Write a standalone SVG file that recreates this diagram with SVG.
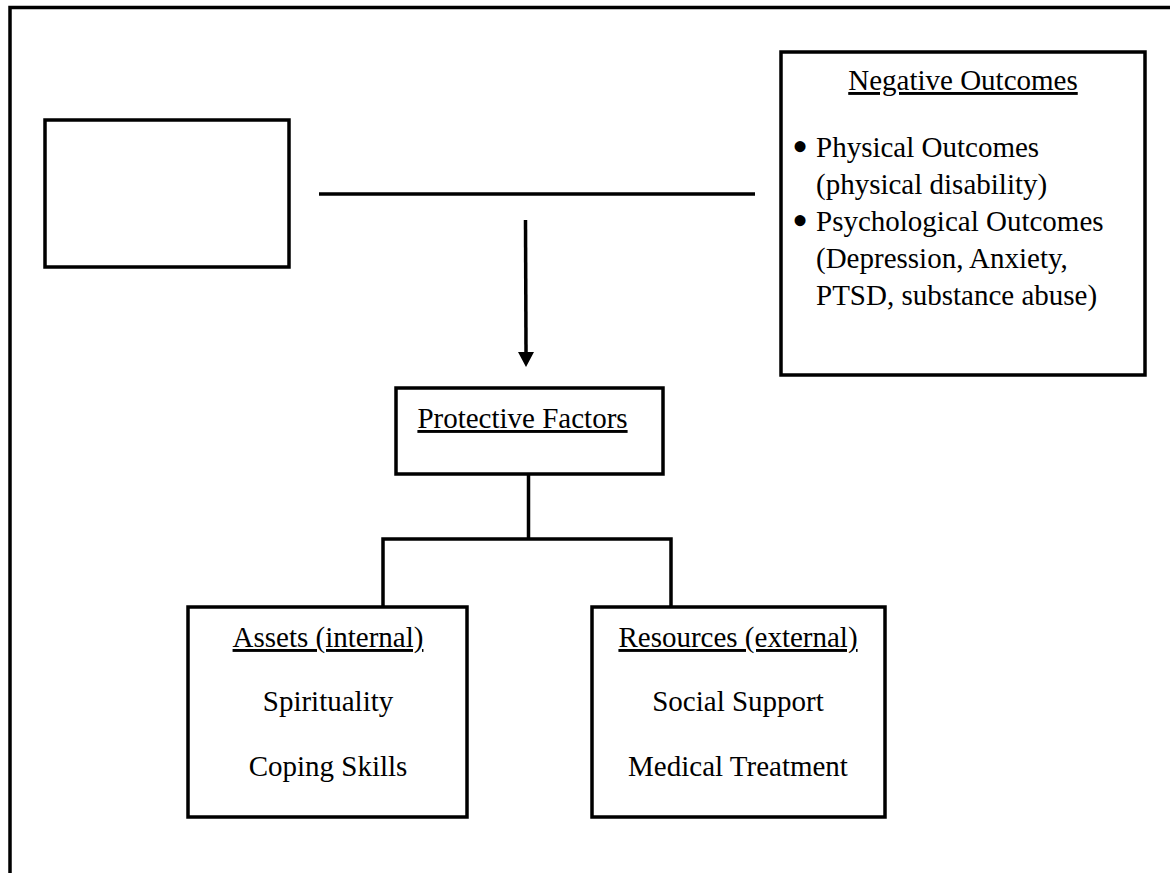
<svg xmlns="http://www.w3.org/2000/svg" width="1170" height="873" viewBox="0 0 1170 873">
<style>
.box{fill:#fff;stroke:#000;stroke-width:3.5}
.ln{fill:none;stroke:#000;stroke-width:3.5}
text{font-family:"Liberation Serif","Times New Roman",serif;font-size:29px;fill:#000}
.c{text-anchor:middle}
.u{text-decoration:underline}
.b{font-size:46px;text-anchor:middle}
</style>
<rect width="1170" height="873" fill="#fff"/>
<g id="frame">
<path class="ln" d="M10,873 V7.5 H1170"/>
</g>
<g id="connectors">
<line class="ln" x1="319" y1="194" x2="755" y2="194"/>
<line x1="525.5" y1="220" x2="526" y2="352" stroke="#000" stroke-width="3.5"/>
<polygon points="518,352 534,352 526,367" fill="#000"/>
<path class="ln" d="M528.5,474 V539 M383,607 V539 H671 V607"/>
</g>
<g id="blank-box">
<rect class="box" x="45" y="120" width="244" height="147"/>
</g>
<g id="negative-outcomes">
<rect class="box" x="781" y="52" width="364" height="323"/>
<text class="c u" x="963" y="90">Negative Outcomes</text>
<text class="b" x="800" y="162">•</text>
<text x="816" y="157">Physical Outcomes</text>
<text x="816" y="194">(physical disability)</text>
<text class="b" x="800" y="236">•</text>
<text x="816" y="231">Psychological Outcomes</text>
<text x="816" y="268">(Depression, Anxiety,</text>
<text x="816" y="305">PTSD, substance abuse)</text>
</g>
<g id="protective-factors">
<rect class="box" x="396" y="388" width="267" height="86"/>
<text class="c u" x="522.5" y="428">Protective Factors</text>
</g>
<g id="assets">
<rect class="box" x="188" y="607" width="279" height="210"/>
<text class="c u" x="328" y="647">Assets (internal)</text>
<text class="c" x="328" y="711">Spirituality</text>
<text class="c" x="328" y="776">Coping Skills</text>
</g>
<g id="resources">
<rect class="box" x="592" y="607" width="293" height="210"/>
<text class="c u" x="738" y="647">Resources (external)</text>
<text class="c" x="738" y="711">Social Support</text>
<text class="c" x="738" y="776">Medical Treatment</text>
</g>
</svg>
